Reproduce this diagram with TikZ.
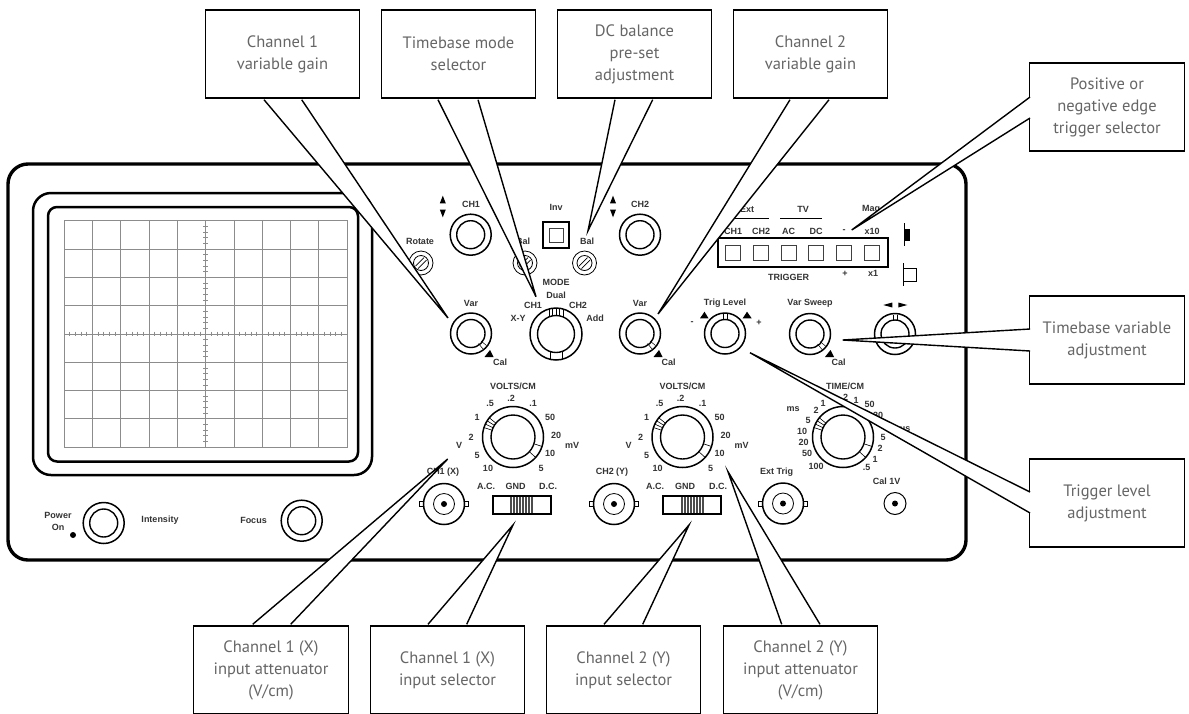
\documentclass[tikz,border=0pt]{standalone}
\usepackage{fontspec}
\setmainfont{Liberation Sans}
\newfontfamily\notefont{PT Sans}
\usetikzlibrary{calc}
\definecolor{clrNote}{HTML}{666666}
\definecolor{clrGrid}{HTML}{8C8C8C}
\definecolor{clrLabel}{HTML}{333333}
\tikzset{
  cabinet/.style = {draw, line width=3.4pt, rounded corners=20pt},
  bezel/.style = {draw, line width=2.5pt},
  knobouter/.style = {circle, draw, line width=1.5pt, inner sep=0, minimum size=#1},
  knobinner/.style = {circle, draw, line width=1.4pt, inner sep=0, minimum size=#1},
  thinring/.style = {circle, draw, line width=0.8pt, inner sep=0, minimum size=#1},
  blackdot/.style = {circle, fill=black, inner sep=0, minimum size=6pt},
  panel/.style = {font=\bfseries\fontsize{9}{10}\selectfont, text=clrLabel, inner sep=0},
  pushbtn/.style = {rectangle, draw=black!75, line width=1pt, inner sep=0, minimum size=15pt},
  note/.style = {rectangle, draw, fill=white, line width=1.4pt, minimum width=154.5pt, minimum height=88pt,
                 align=center, font=\notefont\fontsize{16.5}{22}\selectfont, text=clrNote, inner sep=0},
  tail/.style = {draw, fill=white, line width=1.4pt},
  gridline/.style = {draw=clrGrid, line width=0.6pt},
  tick/.style = {draw=clrGrid, line width=0.5pt},
}

\begin{document}
\begin{tikzpicture}[x=1pt, y=-1pt]
\useasboundingbox (0,0) rectangle (1189,713);

% Case and screen
\draw[cabinet] (8,164) rectangle (966,560);
\draw[bezel, rounded corners=18pt] (33,193) rectangle (372,475);
\draw[bezel, rounded corners=9pt] (48,207) rectangle (358,461.5);
\draw[gridline] (64,220.7) rectangle (347,447);
\foreach \i in {1,...,9}
  \draw[gridline] ({64+28.3*\i},220.7) -- ({64+28.3*\i},447);
\foreach \i in {1,...,7}
  \draw[gridline] (64,{220.7+28.29*\i}) -- (347,{220.7+28.29*\i});
\foreach \i in {1,...,49}
  \draw[tick] ({64+5.66*\i},331.5) -- ({64+5.66*\i},335.9);
\foreach \i in {1,...,39}
  \draw[tick] (203.3,{220.7+5.657*\i}) -- (207.7,{220.7+5.657*\i});

% Power and focus
\node[panel, align=center] (poweron) at (58,521) {Power\\[2pt]On};
\node[blackdot] (powerled) at (73,535) {};
\node[knobouter=41pt] (intensity) at (103.7,523) {};
\node[knobinner=28pt] at (intensity) {};
\node[panel] (intensitylbl) at (160,520.5) {Intensity};
\node[panel] (focuslbl) at (253.5,520.5) {Focus};
\node[knobouter=41pt] (focus) at (301.7,520.7) {};
\node[knobinner=28pt] at (focus) {};

% Plain knobs
\foreach \name/\x/\y in {posone/470.7/234.7, postwo/640/234.7, varone/471/333.5, vartwo/640/333.5,
                         triglevel/725/333.5, varsweep/810/334, poshoriz/895/334} {
  \node[knobouter=41pt] (\name) at (\x,\y) {};
  \node[knobinner=28pt] at (\name) {};
}
\node[knobouter=52pt] (modeknob) at (556,334) {};
\node[knobinner=37pt] at (modeknob) {};

% Pointer marks on the knobs
\foreach \name in {varone, vartwo, varsweep} {
  \draw[line width=0.5pt] ($(\name)+(7.5,10)$) -- ($(\name)+(12,15.5)$);
  \draw[line width=0.5pt] ($(\name)+(10,7.5)$) -- ($(\name)+(15.5,12)$);
}
\foreach \name in {triglevel, poshoriz}
  \foreach \dx in {-2,2}
    \draw[line width=0.5pt] ($(\name)+(\dx,-19.5)$) -- ($(\name)+(\dx,-14)$);
\foreach \dx in {-7,-3.5,0,3.5,7}
  \draw[line width=0.7pt] ($(modeknob)+(\dx,{-sqrt(26*26-\dx*\dx)})$) -- ($(modeknob)+(\dx,{-sqrt(18.5*18.5-\dx*\dx)})$);
\foreach \dx in {-6,6}
  \draw[line width=0.7pt] ($(modeknob)+(\dx,{sqrt(26*26-\dx*\dx)})$) -- ($(modeknob)+(\dx,{sqrt(18.5*18.5-\dx*\dx)})$);

% Preset screws
\foreach \name/\x/\y in {rotate/421/263, balone/525/263, baltwo/584.5/263} {
  \node[thinring=24pt] (\name) at (\x,\y) {};
  \node[thinring=15pt] at (\name) {};
  \draw[line width=0.7pt] ($(\name)+(-5.5,3)$) -- ($(\name)+(3,-5.5)$);
  \draw[line width=0.7pt] ($(\name)+(-3,5.5)$) -- ($(\name)+(5.5,-3)$);
}

% Labels of the upper row
\node[panel] (chonelbl) at (471,204) {CH1};
\node[panel] (chtwolbl) at (640,204) {CH2};
\node[panel] (rotatelbl) at (420,241.5) {Rotate};
\node[panel] (balonelbl) at (523,241.5) {Bal};
\node[panel] (baltwolbl) at (587,241.5) {Bal};
\node[panel] (invlbl) at (556,207) {Inv};
\node[panel] (modelbl) at (556,282) {MODE};
\node[panel] (duallbl) at (556,295) {Dual};
\node[panel] (modeone) at (533,305) {CH1};
\node[panel] (modetwo) at (578,305) {CH2};
\node[panel] (xylbl) at (518,318) {X-Y};
\node[panel] (addlbl) at (595,318) {Add};
\node[panel] (varonelbl) at (471,303) {Var};
\node[panel] (vartwolbl) at (640,303) {Var};
\node[panel] (triglbl) at (725,303.5) {Trig Level};
\node[panel] (sweeplbl) at (810,303.5) {Var Sweep};
\node[panel] (calone) at (500,362.5) {Cal};
\node[panel] (caltwo) at (668.5,362.5) {Cal};
\node[panel] (calthree) at (838.5,362.5) {Cal};
\node[panel] (minuslbl) at (692,323) {-};
\node[panel] (pluslbl) at (759,323) {+};

% Small arrows
\foreach \x in {442.8,613} {
  \fill (\x-3,203.3) -- (\x,195.7) -- (\x+3,203.3) -- cycle;
  \fill (\x-3,209.5) -- (\x,217.3) -- (\x+3,209.5) -- cycle;
}
\foreach \x in {484.5,653.5,825}
  \fill (\x,357) -- (\x+5.5,350) -- (\x+9,357) -- cycle;
\fill (700,318.3) -- (704.5,311.7) -- (708.5,318.3) -- cycle;
\fill (742.7,318.3) -- (747,311.7) -- (751.7,318.3) -- cycle;
\fill (883.3,305) -- (892.3,302.5) -- (892.3,307.5) -- cycle;
\fill (907.3,305) -- (898.3,302.5) -- (898.3,307.5) -- cycle;

% Invert button
\node[rectangle, draw, line width=1.4pt, inner sep=0, minimum size=26pt] (invout) at (556,235) {};
\node[rectangle, draw=black!75, line width=1pt, inner sep=0, minimum size=14pt] (invin) at (556,235) {};

% Trigger block
\draw[line width=1.4pt] (718,238) rectangle (888,267);
\foreach \name/\x/\txt in {btnchone/733/CH1, btnchtwo/761/CH2, btnac/788.5/AC, btndc/816/DC, btnedge/844/-, btnmag/872/x10} {
  \node[pushbtn] (\name) at (\x,252.5) {};
  \node[panel] (\name lbl) at (\x,231) {\txt};
}
\node[panel] (extlbl) at (747,209.5) {Ext};
\node[panel] (tvlbl) at (803,209.5) {TV};
\node[panel] (maglbl) at (871,209.5) {Mag};
\draw[line width=0.8pt] (725,218) -- (769,218);
\draw[line width=0.8pt] (780,218) -- (822,218);
\node[panel] (triggerlbl) at (788.5,277.5) {TRIGGER};
\node[panel] (posedge) at (845,273.5) {+};
\node[panel] (xonelbl) at (873,273.5) {x1};
\draw[line width=0.9pt] (904,223) -- (904,246);
\fill (904,229) rectangle (910,241);
\draw[line width=0.9pt] (903,263) -- (903,286);
\draw[line width=0.9pt] (903,268.5) -- (916,268.5) -- (916,281) -- (903,281);

% Attenuator dials
\foreach \dial/\cx in {chone/513, chtwo/682.5} {
  \node[knobouter=61pt] (dial\dial) at (\cx,437) {};
  \node[knobinner=44pt] at (dial\dial) {};
  \node[panel] (volts\dial) at (\cx,386) {VOLTS/CM};
  \foreach \ang in {141,148,155,162,-18,-42}
    \draw[line width=0.6pt] ($(dial\dial)+({22*cos(\ang)},{-22*sin(\ang)})$) -- ($(dial\dial)+({30.5*cos(\ang)},{-30.5*sin(\ang)})$);
  \foreach \txt/\dx/\dy [count=\i] in {.5/-23/-34, .2/-2/-39, .1/20/-34, 50/37/-20, 20/43/-2, mV/59/8, 10/37/16,
                                       5/28/31, 10/-25/31, 5/-36/18, V/-54/8, 2/-42/0, 1/-36/-20}
    \node[panel] (\dial num\i) at (\cx+\dx,437+\dy) {\txt};
}

% Time base dial
\node[knobouter=61pt] (timedial) at (843,437) {};
\node[knobinner=44pt] at (timedial) {};
\node[panel] (timelbl) at (845,386) {TIME/CM};
\foreach \ang in {141,148,155,162,-18,-42}
  \draw[line width=0.6pt] ($(timedial)+({22*cos(\ang)},{-22*sin(\ang)})$) -- ($(timedial)+({30.5*cos(\ang)},{-30.5*sin(\ang)})$);
\foreach \txt/\x/\y [count=\i] in {ms/793/409.5, 2/816/410, 1/823/403, 2/845.5/397, 1/856/400, 50/869.5/404, 20/878/415,
                                   us/905/429, 5/883/437, 2/880/448, 1/875/459, .5/866.5/467.5, 100/816/466.5,
                                   50/807/453.5, 20/803.5/442.5, 10/802/431, 5/808/420}
  \node[panel] (timenum\i) at (\x,\y) {\txt};

% Input sockets
\foreach \name/\x/\y/\txt/\lx in {bncone/444/504/CH1 (X)/443, bnctwo/614/504/CH2 (Y)/612, bncthree/783/503.5/Ext Trig/776.5} {
  \draw[line width=0.8pt] (\x-24.5,\y-2.5) rectangle (\x-20,\y+2.5);
  \draw[line width=0.8pt] (\x+20,\y-2.5) rectangle (\x+24.5,\y+2.5);
  \node[knobouter=41pt, fill=white] (\name) at (\x,\y) {};
  \node[thinring=21pt] at (\name) {};
  \node[blackdot] at (\name) {};
  \node[panel] (\name lbl) at (\lx,472) {\txt};
}
\node[thinring=22pt, line width=1pt] (calsocket) at (895,503.5) {};
\node[blackdot] at (calsocket) {};
\node[panel] (calsocketlbl) at (886.7,481) {Cal 1V};

% Input slide switches
\foreach \name/\x/\hatch in {swone/493/17, swtwo/663/18} {
  \foreach \i in {0,1.5,...,22.5}
    \draw[line width=0.6pt, black!70] (\x+\hatch+\i,496) -- (\x+\hatch+\i,514);
  \draw[line width=1.3pt] (\x,496) rectangle (\x+58,514);
  \coordinate (\name) at (\x,496);
}
\node[panel] (aclblone) at (486,486) {A.C.};
\node[panel] (gndlblone) at (515.5,486) {GND};
\node[panel] (dclblone) at (548,486) {D.C.};
\node[panel] (aclbltwo) at (655,486) {A.C.};
\node[panel] (gndlbltwo) at (685,486) {GND};
\node[panel] (dclbltwo) at (718,486) {D.C.};

% Pointed ends of the callouts
\coordinate (tipvarone) at (448,318);
\coordinate (tipmode) at (536,296.7);
\coordinate (tipbal) at (588,230.7);
\coordinate (tipvartwo) at (658,314);
\coordinate (tipedge) at (851.7,230);
\coordinate (tipsweep) at (842.7,340);
\coordinate (tiptrig) at (750,352.7);
\coordinate (tipattone) at (447.7,459);
\coordinate (tipselone) at (513,525);
\coordinate (tipseltwo) at (689,525);
\coordinate (tipatttwo) at (728,471.7);

% Callouts along the top
\node[note] (notevarone) at (282.5,54) {Channel 1\\variable gain};
\node[note] (notemode) at (458.5,54) {Timebase mode\\selector};
\node[note] (notebal) at (634.5,54) {DC balance\\pre-set\\adjustment};
\node[note] (notevartwo) at (810.5,54) {Channel 2\\variable gain};
\draw[tail] ($(notevarone.south)+(-18.5,1)$) -- (tipvarone) -- ($(notevarone.south)+(19.2,1)$);
\draw[tail] ($(notemode.south)+(-20.5,1)$) -- (tipmode) -- ($(notemode.south)+(19.5,1)$);
\draw[tail] ($(notebal.south)+(-19.5,1)$) -- (tipbal) -- ($(notebal.south)+(18.2,1)$);
\draw[tail] ($(notevartwo.south)+(-20.5,1)$) -- (tipvartwo) -- ($(notevartwo.south)+(18.5,1)$);

% Callouts on the right
\node[note] (noteedge) at (1107,107) {Positive or\\negative edge\\trigger selector};
\node[note] (notesweep) at (1107,340) {Timebase variable\\adjustment};
\node[note] (notetrig) at (1107,503) {Trigger level\\adjustment};
\draw[tail] ($(noteedge.west)+(1,-10)$) -- (tipedge) -- ($(noteedge.west)+(1,11)$);
\draw[tail] ($(notesweep.west)+(1,-11)$) -- (tipsweep) -- ($(notesweep.west)+(1,11)$);
\draw[tail] ($(notetrig.west)+(1,-11)$) -- (tiptrig) -- ($(notetrig.west)+(1,10)$);

% Callouts along the bottom
\node[note] (noteattone) at (271,670) {Channel 1 (X)\\input attenuator\\(V/cm)};
\node[note] (noteselone) at (447.5,670) {Channel 1 (X)\\input selector};
\node[note] (noteseltwo) at (623.5,670) {Channel 2 (Y)\\input selector};
\node[note] (noteatttwo) at (800.5,670) {Channel 2 (Y)\\input attenuator\\(V/cm)};
\draw[tail] ($(noteattone.north)+(-18.3,-1)$) -- (tipattone) -- ($(noteattone.north)+(19.7,-1)$);
\draw[tail] ($(noteselone.north)+(-19.5,-1)$) -- (tipselone) -- ($(noteselone.north)+(19.2,-1)$);
\draw[tail] ($(noteseltwo.north)+(-19.5,-1)$) -- (tipseltwo) -- ($(noteseltwo.north)+(19.2,-1)$);
\draw[tail] ($(noteatttwo.north)+(-18.8,-1)$) -- (tipatttwo) -- ($(noteatttwo.north)+(19.5,-1)$);
\end{tikzpicture}
\end{document}
